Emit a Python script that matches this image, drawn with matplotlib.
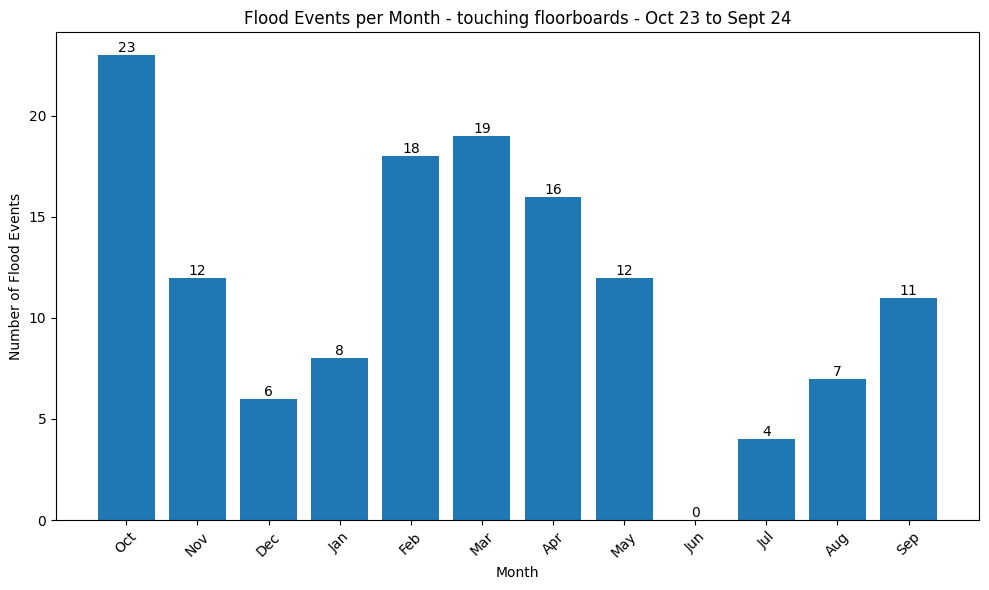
import matplotlib.pyplot as plt

months = ['Oct', 'Nov', 'Dec', 'Jan', 'Feb', 'Mar', 'Apr', 'May', 'Jun', 'Jul', 'Aug', 'Sep']
events = [23, 12, 6, 8, 18, 19, 16, 12, 0, 4, 7, 11]

fig, ax = plt.subplots(figsize=(9.89, 5.9), dpi=100)
bars = ax.bar(months, events, color='#1f77b4')
ax.bar_label(bars)

ax.set_title('Flood Events per Month - touching floorboards - Oct 23 to Sept 24')
ax.set_xlabel('Month')
ax.set_ylabel('Number of Flood Events')
plt.xticks(rotation=45)

# placement
fig.subplots_adjust(left=0.0566, right=0.9899, top=0.9458, bottom=0.1186)
plt.savefig('out.png')
